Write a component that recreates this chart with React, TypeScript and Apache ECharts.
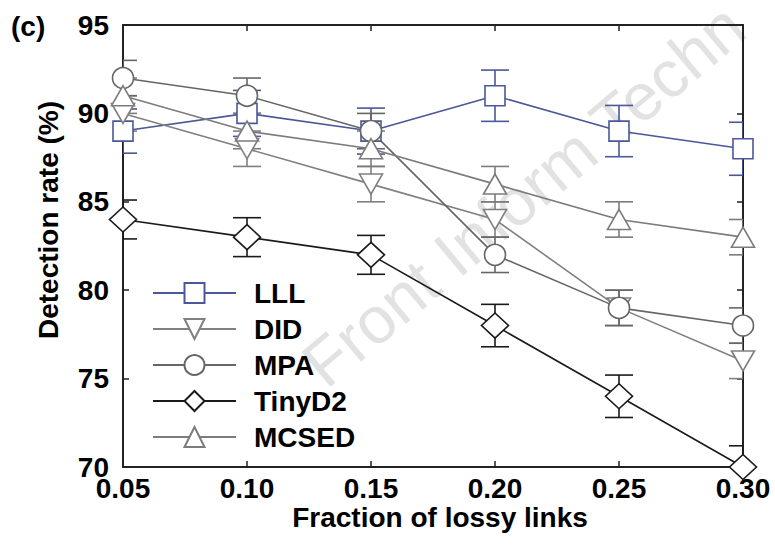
import React, { useEffect, useRef } from "react";
import * as echarts from "echarts";

const categories = ["0.05", "0.10", "0.15", "0.20", "0.25", "0.30"];
const yTicks = [70, 75, 80, 85, 90, 95];

const seriesNames = ["LLL", "DID", "MPA", "TinyD2", "MCSED"];
const lllValues = [89, 90, 89, 91, 89, 88];
const lllErrors = [1.25, 1.3, 1.3, 1.45, 1.45, 1.5];
const didValues = [90, 88, 86, 84, 79, 76];
const didErrors = [1, 1, 1, 1, 1, 1];
const mpaValues = [92, 91, 89, 82, 79, 78];
const mpaErrors = [1, 1, 1, 1, 1, 1];
const tinyValues = [84, 83, 82, 78, 74, 70];
const tinyErrors = [1.1, 1.1, 1.1, 1.2, 1.2, 1.2];
const mcsedValues = [91, 89, 88, 86, 84, 83];
const mcsedErrors = [1, 1, 1, 1, 1, 1];

const FONT = "Liberation Sans, Arial, Helvetica, sans-serif";

export default function App() {
  const ref = useRef<HTMLDivElement>(null);

  useEffect(() => {
    if (!ref.current) return;
    const chart = echarts.init(ref.current, null, { renderer: "svg" });

    const defs = [
      { name: "LLL", values: lllValues, errors: lllErrors, color: "#4a5899", symbol: "rect", size: [20, 20], rotate: 0 },
      { name: "DID", values: didValues, errors: didErrors, color: "#808080", symbol: "triangle", size: [23, 20], rotate: 180 },
      { name: "MPA", values: mpaValues, errors: mpaErrors, color: "#666666", symbol: "circle", size: [21, 21], rotate: 0 },
      { name: "TinyD2", values: tinyValues, errors: tinyErrors, color: "#1a1a1a", symbol: "diamond", size: [27, 25], rotate: 0 },
      { name: "MCSED", values: mcsedValues, errors: mcsedErrors, color: "#7c7c7c", symbol: "triangle", size: [23, 20], rotate: 0 },
    ];

    const errSeries = defs.map((d) => ({
      name: d.name + " error",
      type: "custom",
      clip: true,
      z: 1,
      encode: { x: 0, y: [1, 2] },
      data: d.values.map((v, i) => [i, v - d.errors[i], v + d.errors[i]]),
      renderItem: (params: any, api: any) => {
        const xi = api.value(0);
        const lo = api.value(1);
        const hi = api.value(2);
        const pHi = api.coord([xi, hi]);
        const pLo = api.coord([xi, lo]);
        const hw = 14;
        const style = { stroke: d.color, lineWidth: 1.6, fill: "none" };
        return {
          type: "group",
          children: [
            { type: "line", shape: { x1: pHi[0], y1: pHi[1], x2: pLo[0], y2: pLo[1] }, style },
            { type: "line", shape: { x1: pHi[0] - hw, y1: pHi[1], x2: pHi[0] + hw, y2: pHi[1] }, style },
            { type: "line", shape: { x1: pLo[0] - hw, y1: pLo[1], x2: pLo[0] + hw, y2: pLo[1] }, style },
          ],
        };
      },
    }));

    const lineSeries = defs.map((d) => ({
      name: d.name,
      type: "line",
      z: 3,
      data: d.values,
      symbol: d.symbol,
      symbolSize: d.size,
      symbolRotate: d.rotate,
      showAllSymbol: true,
      lineStyle: { color: d.color, width: 1.6 },
      itemStyle: { color: "#ffffff", borderColor: d.color, borderWidth: 1.6 },
    }));

    const axisLine = { show: true, lineStyle: { color: "#222222", width: 2 } };
    const axisTick = { show: true, inside: true, length: 6, lineStyle: { color: "#222222", width: 1.5 } };
    const labelStyle = { color: "#000000", fontSize: 28, fontWeight: "bold" as const, fontFamily: FONT };

    chart.setOption({
      animation: false,
      backgroundColor: "#ffffff",
      grid: { left: 123, right: 32, top: 25, bottom: 83 },
      xAxis: [
        {
          type: "category",
          data: categories,
          boundaryGap: false,
          position: "bottom",
          axisLine,
          axisTick: { ...axisTick, alignWithLabel: true },
          axisLabel: { ...labelStyle, lineHeight: 20, margin: 11 },
          splitLine: { show: false },
        },
        {
          type: "category",
          data: categories,
          boundaryGap: false,
          position: "top",
          axisLine,
          axisTick,
          axisLabel: { show: false },
          splitLine: { show: false },
        },
      ],
      yAxis: [
        {
          type: "value",
          min: yTicks[0],
          max: yTicks[yTicks.length - 1],
          interval: 5,
          position: "left",
          axisLine,
          axisTick,
          axisLabel: { ...labelStyle, lineHeight: 20, margin: 14 },
          splitLine: { show: false },
        },
        {
          type: "value",
          min: yTicks[0],
          max: yTicks[yTicks.length - 1],
          interval: 5,
          position: "right",
          axisLine,
          axisTick,
          axisLabel: { show: false },
          splitLine: { show: false },
        },
      ],
      legend: {
        show: true,
        orient: "vertical",
        left: 152,
        top: 279,
        padding: 0,
        itemWidth: 83,
        itemHeight: 25,
        itemGap: 8,
        data: seriesNames,
        textStyle: { ...labelStyle, lineHeight: 25, padding: [0, 0, 0, 13] },
        selectedMode: false,
      },
      graphic: [
        {
          type: "text",
          z: -10,
          x: 333,
          y: 398,
          rotation: (40 * Math.PI) / 180,
          style: {
            text: "Front Inform Techn",
            fontSize: 66,
            fontFamily: FONT,
            fill: "#e2e2e2",
            textAlign: "left",
            textVerticalAlign: "bottom",
          },
        },
        {
          type: "text",
          x: 11,
          y: 26,
          style: { text: "(c)", ...labelStyle, fill: "#000", textAlign: "left", textVerticalAlign: "middle" },
        },
        {
          type: "text",
          x: 48,
          y: 220,
          rotation: Math.PI / 2,
          style: {
            text: "Detection rate (%)",
            ...labelStyle,
            fill: "#000",
            textAlign: "center",
            textVerticalAlign: "middle",
          },
        },
        {
          type: "text",
          x: 440,
          y: 517,
          style: {
            text: "Fraction of lossy links",
            ...labelStyle,
            fill: "#000",
            textAlign: "center",
            textVerticalAlign: "middle",
          },
        },
      ],
      series: [...errSeries, ...lineSeries],
    });

    return () => chart.dispose();
  }, []);

  return <div ref={ref} style={{ position: "fixed", left: 0, top: 0, width: 775, height: 550 }} />;
}
